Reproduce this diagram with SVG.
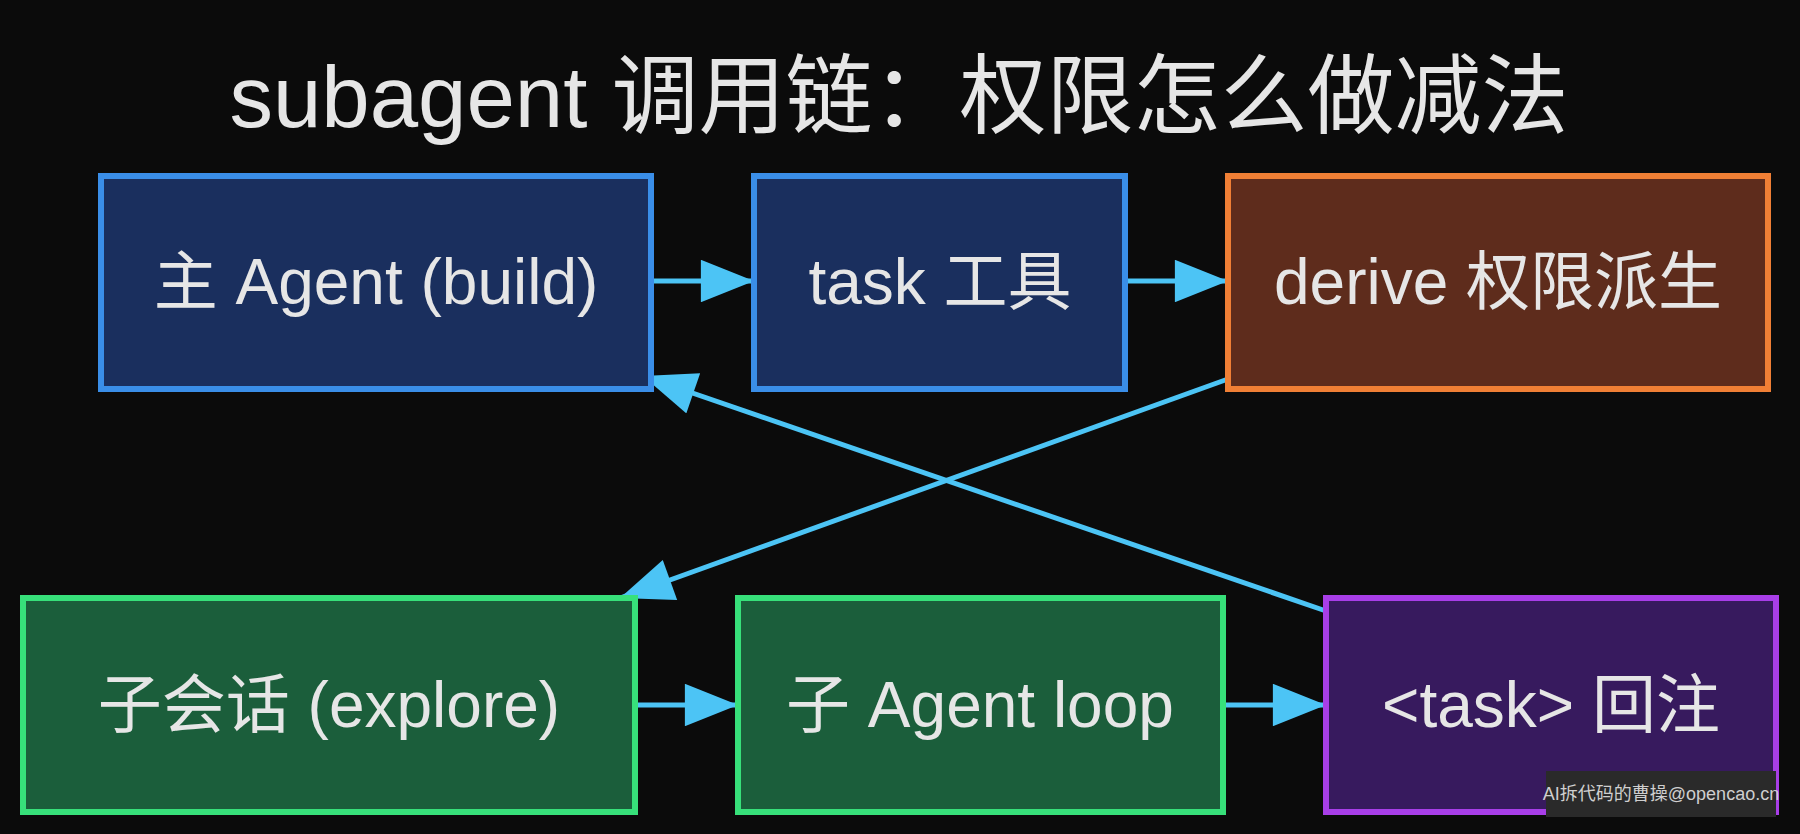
<svg xmlns="http://www.w3.org/2000/svg" width="1800" height="834" viewBox="0 0 1800 834">
<defs>
<style>
text{font-family:"Liberation Sans","Noto Sans CJK SC",sans-serif;fill:#e6e6e6;text-anchor:middle}
.n{font-size:64px}
.b{stroke-width:6}
.c{stroke:#4cc4f5;stroke-width:5;fill:none;marker-end:url(#ah)}
</style>
<marker id="ah" viewBox="0 0 10 8" refX="10" refY="4" markerWidth="11" markerHeight="8.5" orient="auto" markerUnits="strokeWidth"><path d="M0,0L10,4L0,8z" fill="#4cc4f5"/></marker>
</defs>
<rect width="1800" height="834" fill="#0b0b0b"/>
<text x="899" y="127" style="font-size:87px">subagent 调用链：权限怎么做减法</text>
<g id="connectors">
<line class="c" x1="651" y1="281" x2="754" y2="281"/>
<line class="c" x1="1125" y1="281" x2="1228" y2="281"/>
<line class="c" x1="1228" y1="379" x2="620" y2="598"/>
<line class="c" x1="1326" y1="611" x2="643" y2="376"/>
<line class="c" x1="635" y1="705" x2="738" y2="705"/>
<line class="c" x1="1223" y1="705" x2="1326" y2="705"/>
</g>
<g id="n1"><rect class="b" x="101" y="176" width="550" height="213" fill="#1a2f5e" stroke="#3a8ee8"/><text class="n" x="376" y="304">主 Agent (build)</text></g>
<g id="n2"><rect class="b" x="754" y="176" width="371" height="213" fill="#1a2f5e" stroke="#3a8ee8"/><text class="n" x="940" y="304">task 工具</text></g>
<g id="n3"><rect class="b" x="1228" y="176" width="540" height="213" fill="#5e2c1c" stroke="#f07f35"/><text class="n" x="1498" y="304">derive 权限派生</text></g>
<g id="n4"><rect class="b" x="23" y="598" width="612" height="214" fill="#1b5e3b" stroke="#37e07a"/><text class="n" x="329" y="727">子会话 (explore)</text></g>
<g id="n5"><rect class="b" x="738" y="598" width="485" height="214" fill="#1b5e3b" stroke="#37e07a"/><text class="n" x="980" y="727">子 Agent loop</text></g>
<g id="n6"><rect class="b" x="1326" y="598" width="450" height="214" fill="#371a5e" stroke="#a83ee8"/><text class="n" x="1551" y="727">&lt;task&gt; 回注</text></g>
<rect x="1546" y="771" width="230" height="46" fill="#2a2a2a"/>
<text x="1661" y="800" style="font-size:18px;fill:#cfcfcf">AI拆代码的曹操@opencao.cn</text>
</svg>
